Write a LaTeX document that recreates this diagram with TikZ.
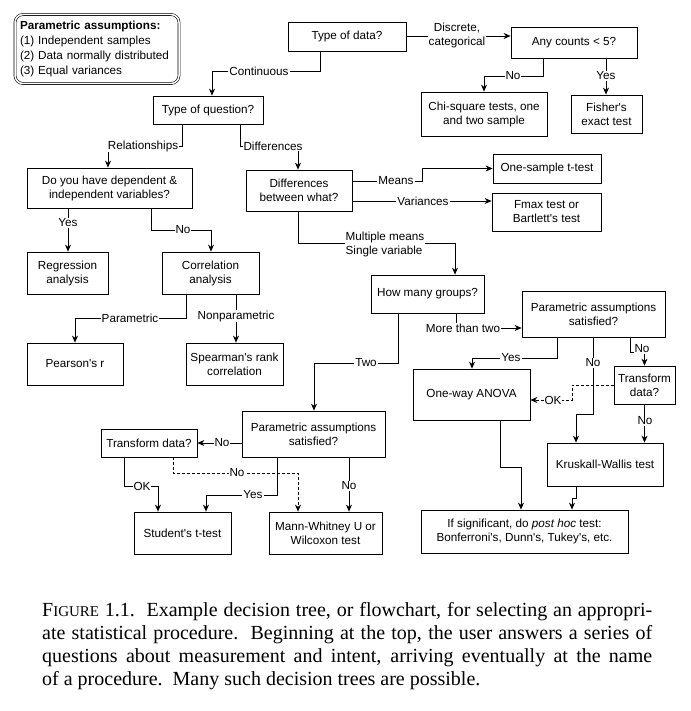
\documentclass[tikz,border=0pt]{standalone}
\usepackage{fontspec}
\setmainfont{Liberation Sans}
\newfontfamily\capfont{Liberation Serif}
\usetikzlibrary{arrows.meta}
\newcommand\boxfont{\fontsize{11.7}{14}\selectfont}
\newcommand\ap{\textquotesingle}
\begin{document}
\begin{tikzpicture}[x=1pt,y=-1pt,
  box/.style={draw, line width=0.8pt, align=center, inner sep=0pt, font=\boxfont},
  sz/.style 2 args={minimum width=#1pt, minimum height=#2pt},
  lab/.style={fill=white, inner sep=1pt, font=\boxfont, align=center},
  conn/.style={line width=0.7pt},
  arr/.style={conn, -{Stealth[length=7pt,width=6pt]}},
  dashconn/.style={arr, dash pattern=on 3pt off 2pt},
  capline/.style={anchor=base west, inner sep=0pt, font=\capfont\fontsize{20}{23}\selectfont}
]
\useasboundingbox (0,0) rectangle (690,711);

% legend
\node[draw, double, double distance=1.5pt, line width=0.6pt, rounded corners=8pt,
      minimum width=163pt, minimum height=69pt, text width=154pt, inner xsep=5pt,
      align=left, font=\fontsize{11.7}{15}\selectfont] (assump) at (97,49)
  {\textbf{Parametric assumptions:}\\(1) Independent samples\\(2) Data normally distributed\\(3) Equal variances};

% boxes
\node[box, sz={118}{29}] (data) at (347,36.5) {Type of data?};
\node[box, sz={126}{31}] (counts) at (574,42.5) {Any counts < 5?};
\node[box, sz={126}{44}] (chi) at (484,114) {Chi-square tests, one\\and two sample};
\node[box, sz={71}{38}] (fisher) at (606.5,114) {Fisher\ap s\\exact test};
\node[box, sz={110}{28}] (question) at (208,110) {Type of question?};
\node[box, sz={165}{40}] (dep) at (109.5,188) {Do you have dependent \&\\independent variables?};
\node[box, sz={106}{41}] (diff) at (299,190.5) {Differences\\between what?};
\node[box, sz={108}{29}] (onesample) at (547,168.5) {One-sample t-test};
\node[box, sz={109}{38}] (fmax) at (546.5,212) {Fmax test or\\Bartlett\ap s test};
\node[box, sz={81}{42}] (regr) at (67.5,273) {Regression\\analysis};
\node[box, sz={97}{42}] (corr) at (210.5,273) {Correlation\\analysis};
\node[box, sz={96}{42}] (pearson) at (75,364) {Pearson\ap s r};
\node[box, sz={97}{42}] (spearman) at (234.5,364) {Spearman\ap s rank\\correlation};
\node[box, sz={113}{38}] (groups) at (427.5,294) {How many groups?};
\node[box, sz={143}{46}] (param2) at (593.5,314) {Parametric assumptions\\satisfied?};
\node[box, sz={117}{51}] (anova) at (471.5,394.5) {One-way ANOVA};
\node[box, sz={61}{38}] (transR) at (644.5,385) {Transform\\data?};
\node[box, sz={116}{43}] (kw) at (605,464.5) {Kruskall-Wallis test};
\node[box, sz={207}{43}] (posthoc) at (524.5,531.5) {If significant, do \textit{post hoc} test:\\Bonferroni\ap s, Dunn\ap s, Tukey\ap s, etc.};
\node[box, sz={143}{46}] (param1) at (313.5,434) {Parametric assumptions\\satisfied?};
\node[box, sz={96}{28}] (transL) at (149,443) {Transform data?};
\node[box, sz={97}{42}] (student) at (182.5,533) {Student\ap s t-test};
\node[box, sz={113}{42}] (mann) at (325.5,533) {Mann-Whitney U or\\Wilcoxon test};

% connectors
\draw[arr] (data.east |- 0,36) -- (counts.west |- 0,36);
\draw[arr] (data.south -| 320,0) |- (212,71) -- (question.north -| 212,0);
\draw[arr] (counts.south -| 543,0) |- (484,76) -- (chi.north);
\draw[arr] (counts.south -| 606,0) -- (fisher.north -| 606,0);
\draw[arr] (question.south -| 182,0) |- (108,146) -- (dep.north -| 108,0);
\draw[arr] (question.south -| 240,0) |- (298,146) -- (diff.north -| 298,0);
\draw[arr] (dep.south -| 68,0) -- (regr.north -| 68,0);
\draw[arr] (dep.south -| 151,0) |- (211,230) -- (corr.north -| 211,0);
\draw[arr] (corr.south -| 186,0) |- (75,318) -- (pearson.north);
\draw[arr] (corr.south -| 236,0) -- (spearman.north -| 236,0);
\draw[arr] (diff.east |- 0,181) -- (422,181) |- (onesample.west);
\draw[arr] (diff.east |- 0,201) -- (fmax.west |- 0,201);
\draw[arr] (diff.south -| 298,0) |- (455,243) -- (groups.north -| 455,0);
\draw[arr] (groups.south -| 456,0) |- (param2.west |- 0,328);
\draw[arr] (param2.south -| 557,0) |- (472,358) -- (anova.north -| 472,0);
\draw[arr] (param2.south -| 593,0) |- (576,414) -- (kw.north -| 576,0);
\draw[arr] (param2.south -| 630,0) |- (644.5,352) -- (transR.north);
\draw[dashconn] (transR.west) -- (572,385) |- (anova.east |- 0,400);
\draw[arr] (transR.south) -- (kw.north -| transR.south);
\draw[arr] (anova.south -| 500,0) |- (521,467) -- (posthoc.north -| 521,0);
\draw[arr] (kw.south -| 576,0) -- (576,498) -- (572,498) -- (posthoc.north -| 572,0);
\draw[arr] (groups.south -| 398,0) |- (314,363) -- (param1.north -| 314,0);
\draw[arr] (param1.west |- 0,443) -- (transL.east);
\draw[dashconn] (transL.south -| 173,0) |- (298,473) -- (mann.north -| 298,0);
\draw[arr] (transL.south -| 124,0) |- (158,486) -- (student.north -| 158,0);
\draw[arr] (param1.south -| 277,0) |- (206,495) -- (student.north -| 206,0);
\draw[arr] (param1.south -| 349,0) -- (mann.north -| 349,0);

% labels
\node[lab] (lDisc) at (457,35) {Discrete,\\categorical};
\node[lab] (lCont) at (259,71) {Continuous};
\node[lab] (lNo1) at (513,76) {No};
\node[lab] (lYes1) at (606,76) {Yes};
\node[lab] (lRel) at (143,146) {Relationships};
\node[lab] (lDiff) at (273,146) {Differences};
\node[lab] (lYes2) at (68,223) {Yes};
\node[lab] (lNo2) at (183,230) {No};
\node[lab] (lPar) at (130,318) {Parametric};
\node[lab] (lNonp) at (236,316) {Nonparametric};
\node[lab] (lMeans) at (396,181) {Means};
\node[lab] (lVar) at (423,201) {Variances};
\node[lab, align=left] (lMult) at (385,244) {Multiple means\\Single variable};
\node[lab] (lMore) at (463,328) {More than two};
\node[lab] (lYes3) at (511,358) {Yes};
\node[lab] (lNo3) at (593,363) {No};
\node[lab] (lNo4) at (642,349) {No};
\node[lab] (lOK1) at (553,400) {OK};
\node[lab] (lNo5) at (645,421) {No};
\node[lab] (lTwo) at (366,363) {Two};
\node[lab] (lNo6) at (222,443) {No};
\node[lab] (lNo7) at (237,473) {No};
\node[lab] (lOK2) at (142,486) {OK};
\node[lab] (lYes4) at (253,495) {Yes};
\node[lab] (lNo8) at (349,486) {No};

% caption
\node[capline] (cap1) at (42,616) {\makebox[610pt][s]{F{\fontsize{15}{15}\selectfont IGURE} 1.1.\ \ Example decision tree, or flowchart, for selecting an appropri-}};
\node[capline] (cap2) at (42,639) {\makebox[610pt][s]{ate statistical procedure.\ \ Beginning at the top, the user answers a series of}};
\node[capline] (cap3) at (42,662) {\makebox[610pt][s]{questions about measurement and intent, arriving eventually at the name}};
\node[capline] (cap4) at (42,685) {of a procedure.\ \ Many such decision trees are possible.};
\end{tikzpicture}
\end{document}
